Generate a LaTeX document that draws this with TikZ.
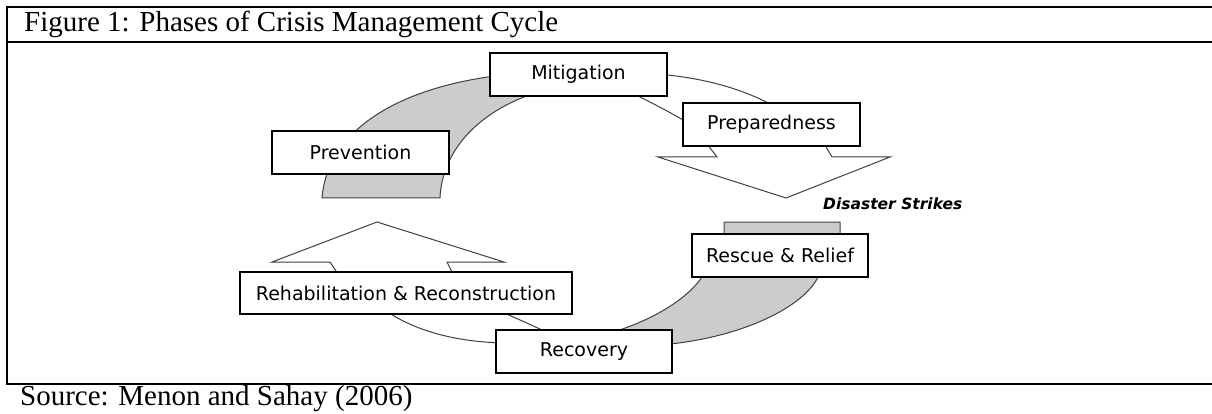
\documentclass[tikz,border=0pt]{standalone}
\usepackage{fontspec}
\setmainfont{Liberation Serif}
\newfontfamily\boxfont{DejaVu Sans}
\definecolor{bandgrey}{RGB}{204,204,204}
\definecolor{bandline}{RGB}{64,64,64}
\begin{document}
\begin{tikzpicture}[x=1pt,y=-1pt,
  phase/.style={draw=black, line width=1.2pt, fill=white, minimum height=43pt,
    minimum width=177pt, inner sep=0pt, font=\boxfont\fontsize{19}{22}\selectfont},
  band/.style={draw=bandline, line width=1pt, fill=bandgrey},
  thinline/.style={draw=bandline, line width=1pt},
  blockarrow/.style={draw=bandline, line width=1pt, fill=white, line join=miter},
  tablerule/.style={line width=2.2pt, draw=black},
  serifbig/.style={anchor=base west, inner sep=0pt, font=\fontsize{29}{34}\selectfont}]
\useasboundingbox (0,0) rectangle (1212,414);

% table rules
\draw[tablerule] (6,7) -- (1212,7);
\draw[tablerule] (6,42) -- (1212,42);
\draw[tablerule] (6,384) -- (1212,384);
\draw[tablerule] (7,6) -- (7,385);

\node[serifbig] (title) at (24,32) {Figure 1: Phases of Crisis Management Cycle};
\node[serifbig] (source) at (20,405) {Source: Menon and Sahay (2006)};

% grey bands
\path[band] (322,198) -- (440,198) .. controls (442,150) and (480,108) .. (545,90)
  -- (540,72) .. controls (410,78) and (328,125) .. (322,198) -- cycle;
\path[band] (724,222) -- (840,222) -- (840,262) -- (818,277)
  .. controls (805,305) and (745,338) .. (660,345) -- (610,333)
  .. controls (660,318) and (690,295) .. (702,277) -- (724,262) -- cycle;

% thin arcs
\draw[thinline] (655,74) .. controls (700,77) and (740,88) .. (770,104);
\draw[thinline] (630,92) .. controls (650,102) and (668,111) .. (690,124);
\draw[thinline] (385,310) .. controls (410,328) and (450,342) .. (505,343);
\draw[thinline] (500,311) .. controls (515,318) and (530,324) .. (548,333);

% block arrows
\draw[blockarrow] (704,140) -- (717,157) -- (658,157) -- (786,198) -- (890,157)
  -- (832,157) -- (822,140) -- cycle;
\draw[blockarrow] (377,222) -- (504,262) -- (447,262) -- (456,280) -- (342,280)
  -- (330,262) -- (272,262) -- cycle;

% phase boxes
\node[phase] (mitigation) at (578.5,74.5) {Mitigation};
\node[phase] (prevention) at (360.5,152.5) {Prevention};
\node[phase] (preparedness) at (771.5,124.5) {Preparedness};
\node[phase, minimum width=176pt] (rescue) at (780,255.5) {Rescue \& Relief};
\node[phase, minimum width=332pt, minimum height=42pt] (rehab) at (406,293) {Rehabilitation \& Reconstruction};
\node[phase, minimum width=176pt] (recovery) at (584,351.5) {Recovery};

\node[anchor=base west, inner sep=0pt, font=\boxfont\bfseries\itshape\fontsize{15.5}{18}\selectfont] (strikes) at (823,210) {Disaster Strikes};
\end{tikzpicture}
\end{document}
